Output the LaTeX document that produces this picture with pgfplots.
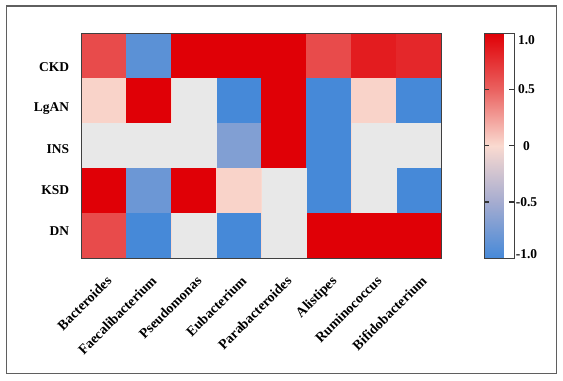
\documentclass[border=0pt]{standalone}
\usepackage{pgfplots}
\pgfplotsset{compat=1.18}
\usepackage{fontspec}
\setmainfont{Liberation Serif}
\definecolor{cellgray}{RGB}{232,232,232}
\definecolor{framegray}{RGB}{95,95,95}
\begin{document}
\begin{tikzpicture}
\path[use as bounding box] (0,0) rectangle (422.25pt,285pt);
\draw[framegray, line width=0.9pt] (4.8pt,5pt) rectangle (417.5pt,280.5pt);
\begin{axis}[
  at={(61.3pt,91.3pt)}, anchor=south west,
  scale only axis, width=270pt, height=168.75pt,
  xmin=-0.5, xmax=7.5, ymin=-0.5, ymax=4.5,
  y dir=reverse,
  axis on top,
  axis line style={draw=black!75, line width=1pt},
  colormap={corr}{rgb255=(70,137,216) rgb255=(165,172,208) rgb255=(250,218,208) rgb255=(234,98,96) rgb255=(224,0,6)},
  point meta min=-1, point meta max=1,
  xtick={0,1,2,3,4,5,6,7},
  xticklabels={Bacteroides,Faecalibacterium,Pseudomonas,Eubacterium,Parabacteroides,Alistipes,Ruminococcus,Bifidobacterium},
  ytick={0.242,1.167,2.078,2.996,3.907},
  yticklabels={CKD,LgAN,INS,KSD,DN},
  major tick length=0pt,
  tick style={draw=none},
  xticklabel style={xshift=1pt, yshift=-7.5pt, rotate=45, anchor=north east, font=\bfseries\fontsize{10.5}{12}\selectfont},
  yticklabel style={font=\bfseries\fontsize{10.1}{12}\selectfont, xshift=-6pt},
  colorbar,
  colorbar style={
    at={(parent axis.north east)}, anchor=north west, xshift=23.5pt,
    width=22.5pt,
    axis line style={draw=black!75, line width=1pt},
    ytick={-0.5,0,0.5},
    yticklabels={-0.5,0,0.5},
    extra y ticks={-0.965,0.943},
    extra y tick labels={-1.0,1.0},
    extra y tick style={major tick length=0pt},
    ytick align=inside,
    ytick pos=both,
    yticklabel pos=right,
    major tick length=3.75pt,
    tick style={draw=black!80, line width=0.8pt},
    yticklabel style={anchor=center, xshift=9pt, font=\bfseries\fontsize{10.1}{12}\selectfont},
  },
]
\addplot[matrix plot*, mesh/cols=8, point meta=explicit] table[meta=c] {
x y c
0 0 0.62
1 0 -0.89
2 0 1
3 0 1
4 0 1
5 0 0.62
6 0 0.86
7 0 0.80
0 1 0.03
1 1 1
2 1 0
3 1 -1
4 1 1
5 1 -1
6 1 0.03
7 1 -1
0 2 0
1 2 0
2 2 0
3 2 -0.69
4 2 1
5 2 -1
6 2 0
7 2 0
0 3 1
1 3 -0.80
2 3 1
3 3 0.03
4 3 0
5 3 -1
6 3 0
7 3 -1
0 4 0.62
1 4 -1
2 4 0
3 4 -1
4 4 0
5 4 1
6 4 1
7 4 1
};
% cells without a value (light grey)
\addplot[fill=cellgray, draw=none, forget plot] coordinates {(1.5,0.5) (2.5,0.5) (2.5,2.5) (1.5,2.5)} -- cycle;
\addplot[fill=cellgray, draw=none, forget plot] coordinates {(-0.5,1.5) (1.5,1.5) (1.5,2.5) (-0.5,2.5)} -- cycle;
\addplot[fill=cellgray, draw=none, forget plot] coordinates {(5.5,1.5) (7.5,1.5) (7.5,2.5) (5.5,2.5)} -- cycle;
\addplot[fill=cellgray, draw=none, forget plot] coordinates {(5.5,2.5) (6.5,2.5) (6.5,3.5) (5.5,3.5)} -- cycle;
\addplot[fill=cellgray, draw=none, forget plot] coordinates {(3.5,2.5) (4.5,2.5) (4.5,4.5) (3.5,4.5)} -- cycle;
\addplot[fill=cellgray, draw=none, forget plot] coordinates {(1.5,3.5) (2.5,3.5) (2.5,4.5) (1.5,4.5)} -- cycle;
\end{axis}
\end{tikzpicture}
\end{document}
